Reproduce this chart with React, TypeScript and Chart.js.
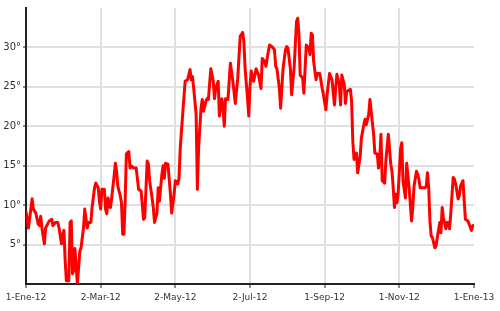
import React, { useEffect, useRef } from "react";
import { Chart, registerables } from "chart.js";

Chart.register(...registerables);

// Day offsets from 1-Ene-2012 and temperatures (°C)
const days: number[] = [
  0, 2, 5, 6, 8, 10, 11, 12, 13, 15,
  16, 17, 19, 21, 22, 24, 26, 27, 29, 30,
  31, 32, 33, 35, 36, 37, 38, 39, 40, 41,
  42, 44, 45, 46, 47, 48, 50, 51, 53, 54,
  56, 57, 59, 60, 61, 62, 64, 65, 66, 67,
  69, 70, 72, 73, 74, 75, 77, 78, 79, 80,
  81, 82, 84, 85, 86, 88, 90, 91, 92, 94,
  95, 96, 97, 99, 100, 101, 103, 104, 105, 107,
  108, 109, 111, 112, 113, 114, 116, 118, 119, 121,
  122, 124, 125, 126, 128, 130, 132, 134, 135, 136,
  137, 139, 140, 141, 143, 144, 145, 147, 148, 149,
  151, 153, 154, 155, 157, 158, 160, 161, 162, 163,
  165, 167, 169, 171, 173, 175, 177, 178, 179, 181,
  182, 183, 184, 186, 188, 190, 192, 193, 195, 196,
  198, 199, 201, 203, 204, 205, 207, 208, 210, 212,
  213, 214, 216, 217, 219, 221, 222, 223, 224, 226,
  227, 228, 229, 231, 232, 233, 234, 235, 237, 238,
  240, 242, 243, 245, 246, 248, 250, 252, 253, 254,
  256, 257, 258, 260, 261, 262, 265, 266, 267, 268,
  270, 271, 273, 274, 276, 277, 278, 280, 281, 282,
  284, 285, 287, 288, 289, 290, 291, 293, 294, 296,
  298, 299, 300, 301, 302, 303, 304, 306, 307, 308,
  310, 311, 313, 314, 315, 316, 317, 319, 320, 321,
  322, 324, 326, 327, 328, 329, 330, 331, 332, 334,
  335, 336, 337, 338, 339, 340, 341, 343, 344, 345,
  346, 347, 349, 350, 351, 353, 354, 355, 357, 358,
  359, 361, 362, 364, 365, 366,
];

const temps: number[] = [
  9.2, 7.1, 10.8, 9.5, 9.0, 7.6, 7.4, 8.6, 7.1, 5.1,
  7.1, 7.4, 8.0, 8.2, 7.4, 7.8, 7.8, 7.1, 5.1, 6.3,
  6.8, 3.0, 0.4, 0.4, 7.8, 8.0, 1.3, 1.7, 4.5, 2.1,
  0.0, 4.2, 4.6, 5.9, 7.1, 9.5, 7.1, 7.8, 7.8, 9.7,
  12.2, 12.8, 12.2, 10.5, 9.5, 12.0, 12.0, 9.5, 8.9, 10.9,
  9.7, 10.9, 13.7, 15.3, 14.3, 12.4, 11.2, 10.3, 6.3, 6.3,
  10.5, 16.5, 16.8, 14.7, 15.0, 14.7, 14.7, 13.4, 12.0, 11.8,
  10.1, 8.2, 8.4, 15.6, 15.2, 13.1, 10.9, 9.7, 7.8, 9.0,
  12.2, 10.5, 13.9, 15.0, 13.4, 15.3, 15.2, 11.4, 9.0, 11.4,
  13.1, 12.7, 13.4, 17.2, 21.5, 25.7, 25.9, 27.2, 25.9, 26.3,
  24.8, 21.5, 12.0, 17.2, 22.3, 23.4, 21.9, 23.2, 23.5, 23.4,
  27.3, 25.7, 23.5, 24.8, 25.7, 21.3, 23.5, 22.3, 20.0, 23.5,
  23.4, 28.0, 25.7, 22.9, 26.1, 31.4, 31.9, 30.7, 27.3, 23.5,
  21.3, 25.1, 27.0, 25.7, 27.3, 26.5, 24.8, 28.6, 28.2, 27.6,
  29.5, 30.3, 30.1, 29.7, 27.6, 27.3, 24.8, 22.3, 27.3, 29.7,
  30.1, 29.9, 27.3, 24.0, 27.3, 33.3, 33.7, 31.6, 26.5, 26.1,
  24.2, 27.3, 30.3, 29.9, 29.1, 31.8, 31.6, 28.2, 25.9, 26.7,
  26.7, 24.8, 24.0, 22.1, 24.0, 26.7, 25.9, 22.7, 24.8, 26.6,
  25.3, 22.7, 26.5, 25.3, 22.9, 24.4, 24.7, 23.2, 18.1, 15.8,
  16.6, 14.1, 16.2, 18.5, 20.2, 20.9, 20.2, 21.5, 23.4, 21.9,
  19.0, 16.6, 16.5, 14.7, 16.0, 19.0, 13.1, 12.8, 15.6, 19.0,
  15.2, 14.3, 12.2, 9.7, 11.4, 10.3, 11.4, 17.1, 17.9, 13.1,
  10.9, 15.3, 12.2, 10.1, 8.0, 9.7, 12.4, 14.3, 13.9, 13.3,
  12.2, 12.2, 12.2, 12.4, 14.1, 12.2, 8.0, 6.1, 5.9, 4.6,
  4.8, 5.9, 6.8, 7.8, 6.5, 9.7, 8.4, 7.0, 7.8, 7.8,
  7.0, 8.9, 13.5, 13.3, 12.7, 10.8, 11.2, 12.4, 13.1, 10.5,
  8.2, 8.0, 7.6, 6.8, 7.4, 7.5,
];

const monthNames: string[] = ["Ene", "Feb", "Mar", "Abr", "May", "Jun", "Jul", "Ago", "Sep", "Oct", "Nov", "Dic"];
const xTickDays: number[] = [0, 61, 122, 183, 244, 305, 366];
const yTickValues: number[] = [5, 10, 15, 20, 25, 30];

function dayLabel(d: number): string {
  const dt = new Date(2012, 0, 1 + Math.round(d));
  const yy = String(dt.getFullYear()).slice(2);
  return `${dt.getDate()}-${monthNames[dt.getMonth()]}-${yy}`;
}

export default function App() {
  const ref = useRef<HTMLCanvasElement | null>(null);

  useEffect(() => {
    if (!ref.current) return;
    const points = days.map((d, i) => ({ x: d, y: temps[i] }));
    const xFont = { family: "'DejaVu Sans', Verdana, sans-serif", size: 9 };
    const yFont = { family: "'DejaVu Sans', Verdana, sans-serif", size: 10 };
    const chart = new Chart(ref.current, {
      type: "line",
      data: {
        datasets: [
          {
            data: points,
            borderColor: "#ff0000",
            borderWidth: 3,
            pointRadius: 0,
            tension: 0,
            borderJoinStyle: "round",
            fill: false,
          },
        ],
      },
      options: {
        animation: false,
        responsive: false,
        events: [],
        layout: { padding: { left: 0, top: 6, right: 26, bottom: 0 } },
        plugins: { legend: { display: false }, tooltip: { enabled: false } },
        scales: {
          x: {
            type: "linear",
            min: 0,
            max: 366,
            afterBuildTicks: (scale: any) => {
              scale.ticks = xTickDays.map((v) => ({ value: v }));
            },
            afterFit: (scale: any) => {
              scale.height = 27;
            },
            ticks: {
              autoSkip: false,
              maxRotation: 0,
              padding: 4,
              color: "#333",
              font: xFont,
              callback: (v: any) => dayLabel(Number(v)),
            },
            grid: {
              drawOnChartArea: true,
              color: (ctx: any) => {
                const v = ctx.tick ? ctx.tick.value : null;
                return v === 0 || v === 366 ? "rgba(0,0,0,0)" : "#e0e0e0";
              },
              lineWidth: 2,
              tickLength: 4,
              tickColor: "#222",
              tickWidth: 1,
            },
            border: { display: true, color: "#222", width: 2 },
          },
          y: {
            min: 0,
            max: 35,
            afterBuildTicks: (scale: any) => {
              scale.ticks = yTickValues.map((v) => ({ value: v }));
            },
            afterFit: (scale: any) => {
              scale.width = 26;
            },
            ticks: {
              padding: 2,
              color: "#333",
              font: yFont,
              callback: (v: any) => `${v}°`,
            },
            grid: {
              color: "#e0e0e0",
              lineWidth: 2,
              tickLength: 3,
              tickColor: "#222",
              tickWidth: 1,
            },
            border: { display: true, color: "#222", width: 2 },
          },
        },
      },
    } as any);
    return () => chart.destroy();
  }, []);

  return (
    <div style={{ position: "absolute", left: 0, top: 0, width: 500, height: 311, background: "#fff" }}>
      <canvas ref={ref} width={500} height={311} style={{ display: "block" }} />
    </div>
  );
}
